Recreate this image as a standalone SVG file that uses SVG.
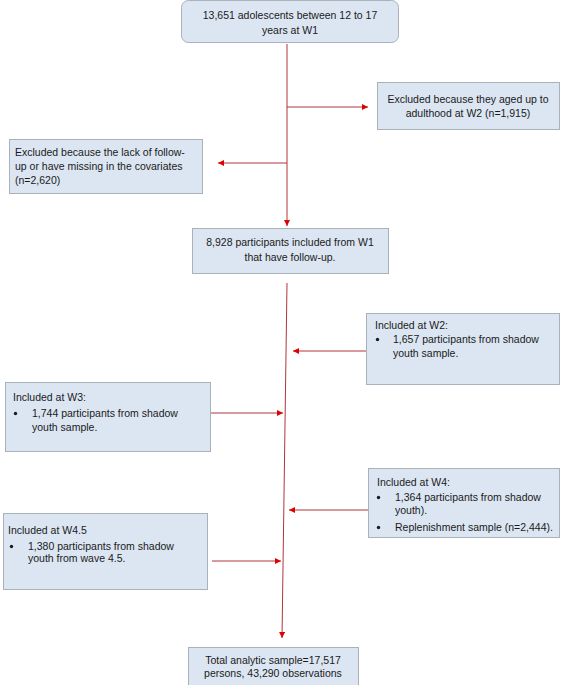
<svg xmlns="http://www.w3.org/2000/svg" width="564" height="685" viewBox="0 0 564 685">
<defs>
<marker id="ah" viewBox="0 0 10 10" refX="10" refY="5" markerWidth="6" markerHeight="6" markerUnits="userSpaceOnUse" orient="auto"><path d="M0,0 L10,5 L0,10 z" fill="#e00000"/></marker>
<style>
.box{fill:#dce6f2;stroke:#a9b1ba;stroke-width:1}
.t{font-family:"Liberation Sans",Arial,sans-serif;font-size:10.5px;fill:#1a1a1a}
.c{text-anchor:middle}
.b{fill:#1a1a1a}
.ln{stroke:#b0343a;stroke-width:1;fill:none;marker-end:url(#ah)}
</style>
</defs>
<rect width="564" height="685" fill="#ffffff"/>
<g id="connectors">
<line class="ln" x1="287" y1="44" x2="287" y2="226"/>
<line class="ln" x1="287" y1="107" x2="368" y2="107"/>
<line class="ln" x1="287" y1="163" x2="218" y2="163"/>
<line class="ln" x1="287" y1="283" x2="282" y2="638"/>
<line class="ln" x1="366" y1="351" x2="293" y2="351"/>
<line class="ln" x1="211" y1="413" x2="283" y2="413"/>
<line class="ln" x1="368" y1="510" x2="289" y2="510"/>
<line class="ln" x1="212" y1="561" x2="281" y2="561"/>
</g>
<g id="n1">
<rect class="box" x="181.5" y="0.5" width="217" height="42" rx="7"/>
<text class="t c" x="290" y="19">13,651 adolescents between 12 to 17</text>
<text class="t c" x="290" y="34">years at W1</text>
</g>
<g id="n2">
<rect class="box" x="377.5" y="82.5" width="182" height="47"/>
<text class="t c" x="468" y="103">Excluded because they aged up to</text>
<text class="t c" x="468" y="117">adulthood at W2 (n=1,915)</text>
</g>
<g id="n3">
<rect class="box" x="9.5" y="139.5" width="193" height="54"/>
<text class="t" x="15" y="156"> Excluded because the lack of follow-</text>
<text class="t" x="15" y="170">up or have missing in the covariates</text>
<text class="t" x="15" y="184">(n=2,620)</text>
</g>
<g id="n4">
<rect class="box" x="192.5" y="228.5" width="196" height="45"/>
<text class="t c" x="290" y="246">8,928 participants included from W1</text>
<text class="t c" x="290" y="261">that have follow-up.</text>
</g>
<g id="n5">
<rect class="box" x="366.5" y="313.5" width="193" height="71"/>
<text class="t" x="375" y="329">Included at W2:</text>
<circle class="b" cx="377.5" cy="339.5" r="1.7"/>
<text class="t" x="393" y="343">1,657 participants from shadow</text>
<text class="t" x="393" y="357">youth sample.</text>
</g>
<g id="n6">
<rect class="box" x="5.5" y="382.5" width="205" height="69"/>
<text class="t" x="13" y="401">Included at W3:</text>
<circle class="b" cx="15.5" cy="413.5" r="1.7"/>
<text class="t" x="32" y="417">1,744 participants from shadow</text>
<text class="t" x="32" y="431">youth sample.</text>
</g>
<g id="n7">
<rect class="box" x="368.5" y="468.5" width="191" height="69"/>
<text class="t" x="377" y="486">Included at W4:</text>
<circle class="b" cx="378.5" cy="497.5" r="1.7"/>
<text class="t" x="395" y="501">1,364 participants from shadow</text>
<text class="t" x="395" y="514">youth).</text>
<circle class="b" cx="378.5" cy="527.5" r="1.7"/>
<text class="t" x="395" y="531">Replenishment sample (n=2,444).</text>
</g>
<g id="n8">
<rect class="box" x="3.5" y="513.5" width="204" height="76"/>
<text class="t" x="8" y="534">Included at W4.5</text>
<circle class="b" cx="11.5" cy="546.5" r="1.7"/>
<text class="t" x="28" y="550">1,380 participants from shadow</text>
<text class="t" x="28" y="562">youth from wave 4.5.</text>
</g>
<g id="n9">
<rect class="box" x="188.5" y="647.5" width="170" height="40"/>
<text class="t c" x="273" y="664">Total analytic sample=17,517</text>
<text class="t c" x="273" y="677">persons, 43,290 observations</text>
</g>
</svg>
